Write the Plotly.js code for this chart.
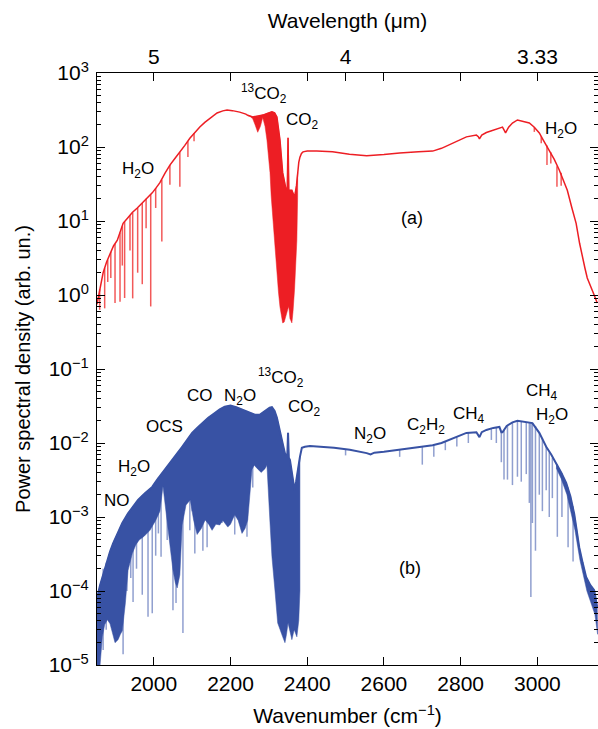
<!DOCTYPE html>
<html>
<head>
<meta charset="utf-8">
<script src="https://cdn.plot.ly/plotly-3.0.1.min.js"></script>
<style>html,body{margin:0;padding:0;background:#fff;}#chart{width:598px;height:729px;}</style>
</head>
<body>
<div id="chart"></div>
<script>
// ---------- (a) red spectrum ----------
const redWn = [1852,1860,1868,1877,1886,1895,1905,1912,1920,1932,1944,1957,1970,1983,1996,2006,2016,2029,2042,2055,2068,2081,2094,2107,2120,2133,2146,2165,2180,2191,2205,2224,2240,2245,2258,2275,2285,2296,2308,2315,2321,2329,2336,2344,2348,2350,2352,2360,2367,2372,2375,2378,2381,2385,2389,2400,2425,2466,2510,2555,2600,2641,2690,2727,2750,2771,2795,2815,2841,2846,2849,2855,2867,2890,2909,2913,2917,2925,2935,2948,2960,2979,2992,3005,3015,3031,3044,3057,3068,3078,3090,3101,3110,3117,3124,3130,3140,3148,3156];
const redPsd = [0.75,1.3,2.0,2.8,3.7,4.6,5.5,7.0,9.3,11,13,15,17.5,21,24,28,33,44,57,70,85,105,131,158,186,215,245,288,308,316,310,296,278,268,255,262,270,285,300,290,254,124,45,28,26,133,26,26,21,30,45,62,73,82,86,88,88,86,80,76,79,83,86,88,96,107,122,137,145,138,129,145,157,172,186,170,155,185,211,232,225,211,185,155,125,91,68,49,36,26,15,9.3,5,3.2,2.3,1.7,1.3,1.0,0.78];
// lower edge of the dense CO2 band (a)
const redLowWn  = [2245,2250,2258,2264,2271,2278,2284,2290,2295,2299,2303,2306,2310,2316,2321,2325,2329,2332,2336,2340,2344,2349,2352,2355,2360,2363,2367,2370,2373,2375];
const redLowPsd = [265,262,240,200,158,190,250,190,124,85,45,22,9.3,4.5,2.0,1.1,0.69,0.55,0.42,0.43,0.5,0.63,0.7,0.48,0.42,0.6,1.2,2.0,5.5,21];
// absorption lines (a)
const redLineWn  = [1859,1872,1880,1888,1899,1912,1918,1924,1938,1945,1958,1970,1980,1992,2005,2021,2042,2068,2089,2105,2992,3010,3025,3035,3051,3062];
const redLineTop = [1.2,2.3,3.0,3.8,4.9,7.0,8.5,9.8,12,13,15,17.5,20,23,28,36,57,85,120,155,185,140,105,85,55,45];
const redLineLow = [0.63,0.66,1.5,1.7,0.78,0.81,2.5,0.91,4,0.9,2,1.4,8,0.7,15,5.3,31,29,73,120,160,112,57,60,29,30];

// ---------- (b) blue spectrum ----------
const blueWn = [1852,1855,1860,1866,1872,1879,1886,1894,1906,1918,1933,1946,1959,1977,1996,2009,2022,2035,2048,2061,2074,2087,2100,2113,2126,2142,2159,2172,2185,2200,2215,2230,2250,2265,2276,2290,2302,2308,2315,2321,2329,2337,2342,2348,2350,2352,2355,2360,2367,2371,2375,2381,2386,2394,2407,2433,2470,2511,2540,2555,2565,2575,2600,2641,2680,2727,2750,2771,2795,2815,2841,2846,2849,2855,2867,2885,2901,2906,2909,2920,2935,2948,2960,2971,2987,3005,3023,3036,3049,3062,3075,3086,3096,3103,3109,3118,3127,3138,3148,3156];
const bluePsd = [7e-5,9.3e-5,1.2e-4,1.55e-4,2.0e-4,2.6e-4,3.4e-4,4.4e-4,6.2e-4,8.3e-4,1.12e-3,1.4e-3,1.7e-3,2.1e-3,2.55e-3,3.2e-3,3.9e-3,4.8e-3,5.9e-3,7.3e-3,8.9e-3,1.1e-2,1.37e-2,1.6e-2,1.86e-2,2.2e-2,2.54e-2,2.85e-2,3.1e-2,3.2e-2,3.05e-2,2.85e-2,2.55e-2,2.4e-2,2.4e-2,2.7e-2,3.0e-2,3.05e-2,2.7e-2,2.2e-2,1.37e-2,9.3e-3,7.2e-3,6.5e-3,1.37e-2,6.3e-3,5.9e-3,3.9e-3,2.3e-3,3.0e-3,4.3e-3,6.5e-3,8.6e-3,8.9e-3,9.1e-3,8.9e-3,8.6e-3,8.1e-3,7.6e-3,7.3e-3,7.0e-3,7.4e-3,7.6e-3,8.1e-3,8.6e-3,9.3e-3,1.0e-2,1.1e-2,1.25e-2,1.37e-2,1.4e-2,1.3e-2,1.2e-2,1.4e-2,1.5e-2,1.6e-2,1.65e-2,1.4e-2,1.4e-2,1.7e-2,1.9e-2,2.0e-2,1.95e-2,1.9e-2,1.86e-2,1.37e-2,8.9e-3,7.0e-3,5.4e-3,4.0e-3,2.9e-3,1.9e-3,1.1e-3,6.5e-4,3.9e-4,2.4e-4,1.55e-4,1.2e-4,1.03e-4,6e-5];
// lower edge of the dense absorption region (b), 1852-2381
const blueLowWn  = [1852,1860,1866,1872,1879,1886,1892,1899,1907,1913,1918,1926,1933,1944,1953,1962,1975,1990,2005,2016,2024,2030,2037,2043,2050,2056,2061,2068,2074,2084,2095,2104,2113,2124,2134,2143,2152,2162,2172,2180,2193,2200,2211,2220,2230,2238,2245,2250,2256,2262,2270,2280,2290,2295,2299,2303,2308,2316,2323,2330,2336,2342,2346,2350,2355,2360,2366,2373,2378,2381];
const blueLowPsd = [1e-5,1e-5,2.4e-5,3.5e-5,4.1e-5,3.6e-5,2.7e-5,2.0e-5,2.2e-5,2.6e-5,2.9e-5,6.9e-5,1.9e-4,3.2e-4,4.2e-4,4.9e-4,5.5e-4,6.6e-4,9e-4,1.2e-3,2.6e-3,1.3e-3,6.6e-4,3.8e-4,1.9e-4,1.3e-4,1.1e-4,1.65e-4,7.8e-4,1.45e-3,1.7e-3,9e-4,5.8e-4,7e-4,9.1e-4,8e-4,6.6e-4,8e-4,7.8e-4,9e-4,7.3e-4,8e-4,1.07e-3,9e-4,6.0e-4,7e-4,9.1e-4,2e-3,4.4e-3,5.0e-3,4.5e-3,4.0e-3,4.5e-3,5e-3,2.5e-3,8.3e-4,2.9e-4,1.0e-4,3.7e-5,3.0e-5,2.4e-5,2.0e-5,2.6e-5,3.7e-5,3.0e-5,2.2e-5,3.0e-5,2.4e-5,4e-5,1.0e-4];
// lower edge of the dense high-wavenumber tail (b)
const blueTailWn  = [3049,3062,3077,3098,3111,3129,3150,3157];
const blueTailPsd = [4.6e-3,3.3e-3,2.0e-3,6.6e-4,2.6e-4,1.0e-4,4.8e-5,2.6e-5];
// absorption lines (b)
const blueLineWn  = [1868,1876,1883,1897,1904,1920,1930,1940,1946,1955,1970,1985,1996,2005,2012,2019,2035,2050,2058,2076,2094,2100,2107,2118,2128,2139,2147,2165,2178,2190,2211,2243,2258,2500,2641,2700,2730,2760,2790,2820,2880,2893,2906,2913,2922,2935,2948,2958,2971,2979,2983,2987,2995,3005,3013,3023,3031,3039,3052,3064,3080,3093];
const blueLineTop = [2.0e-4,2.4e-4,3.0e-4,4.8e-4,5.8e-4,8.5e-4,1.05e-3,1.25e-3,1.4e-3,1.6e-3,1.95e-3,2.3e-3,2.55e-3,3.0e-3,3.4e-3,3.7e-3,4.8e-3,6.0e-3,6.8e-3,9.0e-3,1.25e-2,1.37e-2,1.5e-2,1.7e-2,1.9e-2,2.1e-2,2.3e-2,2.6e-2,2.95e-2,3.1e-2,3.1e-2,2.7e-2,2.4e-2,8.2e-3,8.1e-3,8.8e-3,9.3e-3,1.05e-2,1.2e-2,1.37e-2,1.55e-2,1.6e-2,1.4e-2,1.5e-2,1.7e-2,1.9e-2,2.0e-2,1.95e-2,1.9e-2,1.9e-2,1.88e-2,1.86e-2,1.7e-2,1.37e-2,1.15e-2,8.9e-3,7.5e-3,6.3e-3,5.1e-3,3.9e-3,2.5e-3,1.4e-3];
const blueLineLow = [1.6e-5,3e-5,5e-5,6e-5,8e-5,1.4e-5,1e-4,1.5e-4,7.1e-5,2e-4,8.9e-5,4.5e-5,5.0e-5,3e-4,6e-4,2.9e-4,4.9e-4,5.5e-5,6.9e-5,2.7e-5,6.6e-4,1.2e-3,3.2e-4,1.5e-3,3.5e-4,3.9e-4,1.6e-3,2e-3,8.3e-4,2.5e-3,5.8e-4,5.4e-4,2.5e-3,6.8e-3,6.5e-3,5.1e-3,6.5e-3,8e-3,9e-3,1.0e-2,1.1e-2,1.0e-2,5.5e-3,3.2e-3,3.2e-3,2.7e-3,3.5e-3,3.0e-3,3.8e-3,1.55e-3,8.3e-5,8.3e-4,3.5e-4,2.0e-3,1.2e-3,2.3e-3,1.0e-3,1.8e-3,5.4e-4,1e-3,3.9e-4,2.5e-4];

// ---------- axes ----------
const wnTicks = [2000,2200,2400,2600,2800,3000];
const wlTickVals = [2000,2200,2400,2500,2600,2800,3000];
const wlTickText = ['5','','','4','','','3.33'];
const psdTicks = [1e-5,1e-4,1e-3,1e-2,1e-1,1e0,1e1,1e2,1e3];
const psdTickText = ['10<sup>−5</sup>','10<sup>−4</sup>','10<sup>−3</sup>','10<sup>−2</sup>','10<sup>−1</sup>','10<sup>0</sup>','10<sup>1</sup>','10<sup>2</sup>','10<sup>3</sup>'];

// ---------- labels ----------
const labText = ['H<sub>2</sub>O','<sup>13</sup>CO<sub>2</sub>','CO<sub>2</sub>','H<sub>2</sub>O','(a)',
  'NO','H<sub>2</sub>O','OCS','CO','N<sub>2</sub>O','<sup>13</sup>CO<sub>2</sub>','CO<sub>2</sub>','N<sub>2</sub>O','C<sub>2</sub>H<sub>2</sub>','CH<sub>4</sub>','CH<sub>4</sub>','H<sub>2</sub>O','(b)'];
const labWn  = [1959,2287,2387,3062,2673, 1904,1949,2029,2121,2225,2332,2392,2564,2710,2822,3013,3039,2668];
const labLog = [1.69,2.72,2.35,2.23,1.04, -2.78,-2.34,-1.78,-1.36,-1.38,-1.12,-1.53,-1.89,-1.77,-1.62,-1.31,-1.64,-3.69];

const RED = 'rgb(237,30,36)';
const BLUE = 'rgb(56,82,164)';
const BLUE_LIGHT = 'rgba(70,95,175,0.6)';

function spikes(wn, top, low){
  const x=[], y=[];
  for (let i=0;i<wn.length;i++){ x.push(wn[i],wn[i],null); y.push(top[i],low[i],null); }
  return {x, y};
}
function band(envWn, envPsd, lowWn, lowPsd, from, to){
  const x=[], y=[];
  for (let i=0;i<envWn.length;i++){ if(envWn[i]>=from && envWn[i]<=to){ x.push(envWn[i]); y.push(envPsd[i]); } }
  for (let i=lowWn.length-1;i>=0;i--){ x.push(lowWn[i]); y.push(lowPsd[i]); }
  return {x, y};
}

const rs = spikes(redLineWn, redLineTop, redLineLow);
const rb = band(redWn, redPsd, redLowWn, redLowPsd, 2245, 2375);
const bs = spikes(blueLineWn, blueLineTop, blueLineLow);
const bb = band(blueWn, bluePsd, blueLowWn, blueLowPsd, 1852, 2381);
const bt = band(blueWn, bluePsd, blueTailWn, blueTailPsd, 3049, 3156);

const traces = [
  {x: rs.x, y: rs.y, mode:'lines', line:{color:'rgba(240,60,60,0.85)', width:1.5}, hoverinfo:'skip', showlegend:false},
  {x: rb.x, y: rb.y, mode:'lines', fill:'toself', fillcolor:RED, line:{color:RED, width:0.5}, hoverinfo:'skip', showlegend:false},
  {x: redWn, y: redPsd, mode:'lines', line:{color:RED, width:1.5}, hoverinfo:'skip', showlegend:false},
  {x: bs.x, y: bs.y, mode:'lines', line:{color:BLUE_LIGHT, width:1.5}, hoverinfo:'skip', showlegend:false},
  {x: bb.x, y: bb.y, mode:'lines', fill:'toself', fillcolor:BLUE, line:{color:BLUE, width:0.5}, hoverinfo:'skip', showlegend:false},
  {x: bt.x, y: bt.y, mode:'lines', fill:'toself', fillcolor:BLUE, line:{color:BLUE, width:0.5}, hoverinfo:'skip', showlegend:false},
  {x: blueWn, y: bluePsd, mode:'lines', line:{color:BLUE, width:2}, hoverinfo:'skip', showlegend:false},
  // carrier for the top (wavelength) axis, not drawn
  {x: [wlTickVals[0]], y: [psdTicks[0]], xaxis:'x2', mode:'markers', marker:{opacity:0, size:1}, hoverinfo:'skip', showlegend:false}
];

const minorVals = [];
for (let e=-5;e<3;e++){ for (let m=2;m<10;m++){ minorVals.push(m*Math.pow(10,e)); } }

const FONT = 'Liberation Sans, Arial, Helvetica, sans-serif';
const annotations = labText.map((t,i)=>({
  x: labWn[i], y: labLog[i], xref:'x', yref:'y', text:t, showarrow:false,
  font:{family:FONT, size:(t.charAt(0)==='(' ? 18 : 17), color:'#000'}
}));

const layout = {
  width:598, height:729,
  margin:{l:97, r:0, t:73, b:64},
  paper_bgcolor:'#fff', plot_bgcolor:'#fff',
  font:{family:FONT, size:20, color:'#000'},
  showlegend:false,
  xaxis:{
    range:[1852,3158], tickmode:'array', tickvals:wnTicks, ticks:'inside', ticklen:8, tickwidth:1, tickcolor:'#000',
    showline:true, linecolor:'#000', linewidth:1, showgrid:false, zeroline:false,
    tickfont:{size:21}, title:{text:'Wavenumber (cm<sup>−1</sup>)', font:{size:21}, standoff:14}
  },
  xaxis2:{
    overlaying:'x', side:'top', anchor:'y', range:[1852,3158], tickmode:'array', tickvals:wlTickVals, ticktext:wlTickText,
    ticks:'inside', ticklen:8, tickwidth:1, tickcolor:'#000',
    showline:true, linecolor:'#000', linewidth:1, showgrid:false, zeroline:false,
    tickfont:{size:21}, title:{text:'Wavelength (μm)', font:{size:21}, standoff:10}
  },
  yaxis:{
    type:'log', range:[-5,3], tickmode:'array', tickvals:psdTicks, ticktext:psdTickText,
    ticks:'inside', ticklen:8, tickwidth:1, tickcolor:'#000', mirror:'ticks', ticklabelstandoff:3,
    showline:true, linecolor:'#000', linewidth:1, showgrid:false, zeroline:false,
    minor:{tickmode:'array', tickvals:minorVals, ticks:'inside', ticklen:4, tickcolor:'#000', showgrid:false},
    tickfont:{size:21}, title:{text:'Power spectral density (arb. un.)', font:{size:20}, standoff:12}
  },
  annotations: annotations
};

Plotly.newPlot('chart', traces, layout, {staticPlot:true, displayModeBar:false});
</script>
</body>
</html>
